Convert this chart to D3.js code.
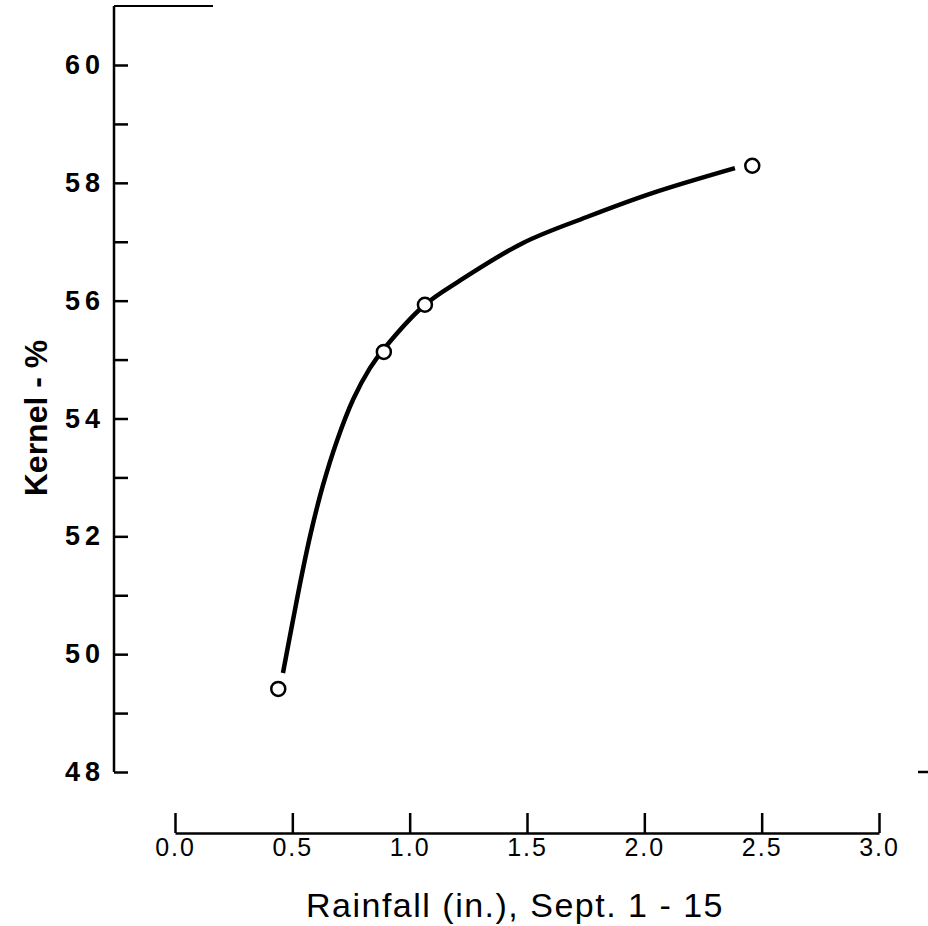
<!DOCTYPE html>
<html>
<head>
<meta charset="utf-8">
<script src="https://cdn.jsdelivr.net/npm/d3@7"></script>
<style>
  body { margin: 0; background: #fff; }
  svg { display: block; }
</style>
</head>
<body>
<svg id="chart" width="928" height="926"></svg>
<script>
// measured points (circles)
var rainfall = [0.44, 0.89, 1.065, 2.46];
var kernel = [49.41, 55.13, 55.93, 58.29];

// hand drawn curve
var curveRain = [0.46, 0.50, 0.54, 0.58, 0.63, 0.69, 0.76, 0.83, 0.89, 1.065, 1.206, 1.483, 1.755, 2.037, 2.386];
var curveKernel = [49.68, 50.52, 51.34, 52.08, 52.86, 53.62, 54.33, 54.85, 55.18, 55.93, 56.32, 56.98, 57.42, 57.83, 58.25];

var xTicks = [0, 0.5, 1.0, 1.5, 2.0, 2.5, 3.0];
var yTicks = [48, 49, 50, 51, 52, 53, 54, 55, 56, 57, 58, 59, 60];

var svg = d3.select("#chart");

var x = d3.scaleLinear().domain([0, 3]).range([175, 879]);
var y = d3.scaleLinear().domain([48, 60]).range([772, 65]);
var axisX = 114;
var axisY = 833;
var font = "'Liberation Sans', Arial, sans-serif";

// y axis
var yAxis = d3.axisLeft(y)
  .tickValues(yTicks)
  .tickSizeInner(-14)
  .tickSizeOuter(0)
  .tickPadding(9)
  .tickFormat(function(d) { return d % 2 === 0 ? d : ""; });

var gy = svg.append("g")
  .attr("transform", "translate(" + axisX + ",0)")
  .call(yAxis);
gy.select(".domain").remove();
gy.selectAll(".tick line").attr("stroke", "#000").attr("stroke-width", 2.5);
gy.selectAll(".tick text")
  .style("font-family", font)
  .style("font-size", "27px")
  .style("font-weight", "bold")
  .style("letter-spacing", "5px")
  .attr("fill", "#000");

svg.append("line")
  .attr("x1", axisX).attr("x2", axisX)
  .attr("y1", y(61)).attr("y2", y(48))
  .attr("stroke", "#000").attr("stroke-width", 2.5);

// top border fragment
svg.append("line")
  .attr("x1", axisX).attr("x2", 213)
  .attr("y1", y(61)).attr("y2", y(61))
  .attr("stroke", "#000").attr("stroke-width", 2);

// right edge fragment
svg.append("line")
  .attr("x1", 918).attr("x2", 928)
  .attr("y1", y(48)).attr("y2", y(48))
  .attr("stroke", "#000").attr("stroke-width", 2.5);

// x axis
var xAxis = d3.axisBottom(x)
  .tickValues(xTicks)
  .tickSizeInner(-20)
  .tickSizeOuter(0)
  .tickPadding(4)
  .tickFormat(d3.format(".1f"));

var gx = svg.append("g")
  .attr("transform", "translate(0," + axisY + ")")
  .call(xAxis);
gx.select(".domain").attr("stroke", "#000").attr("stroke-width", 2.5);
gx.selectAll(".tick line").attr("stroke", "#000").attr("stroke-width", 2.5);
gx.selectAll(".tick text")
  .style("font-family", font)
  .style("font-size", "25px")
  .style("letter-spacing", "2px")
  .attr("fill", "#000")
  .attr("dy", "0.75em");

// curve
var curvePts = curveRain.map(function(d, i) { return [d, curveKernel[i]]; });
var line = d3.line()
  .x(function(d) { return x(d[0]); })
  .y(function(d) { return y(d[1]); })
  .curve(d3.curveCatmullRom.alpha(0.5));

svg.append("path")
  .datum(curvePts)
  .attr("d", line)
  .attr("fill", "none")
  .attr("stroke", "#000")
  .attr("stroke-width", 4.5)
  .attr("stroke-linecap", "butt");

// points
var pts = rainfall.map(function(d, i) { return { r: d, k: kernel[i] }; });
svg.selectAll(".pt")
  .data(pts)
  .enter().append("circle")
  .attr("class", "pt")
  .attr("cx", function(d) { return x(d.r); })
  .attr("cy", function(d) { return y(d.k); })
  .attr("r", 7)
  .attr("fill", "#fff")
  .attr("stroke", "#000")
  .attr("stroke-width", 2.5);

// titles
svg.append("text")
  .attr("x", 515)
  .attr("y", 917)
  .attr("text-anchor", "middle")
  .style("font-family", font)
  .style("font-size", "34px")
  .style("letter-spacing", "1.5px")
  .text("Rainfall (in.), Sept. 1 - 15");

svg.append("text")
  .attr("transform", "translate(47,418) rotate(-90)")
  .attr("text-anchor", "middle")
  .style("font-family", font)
  .style("font-size", "32px")
  .style("font-weight", "bold")
  .text("Kernel - %");
</script>
</body>
</html>
